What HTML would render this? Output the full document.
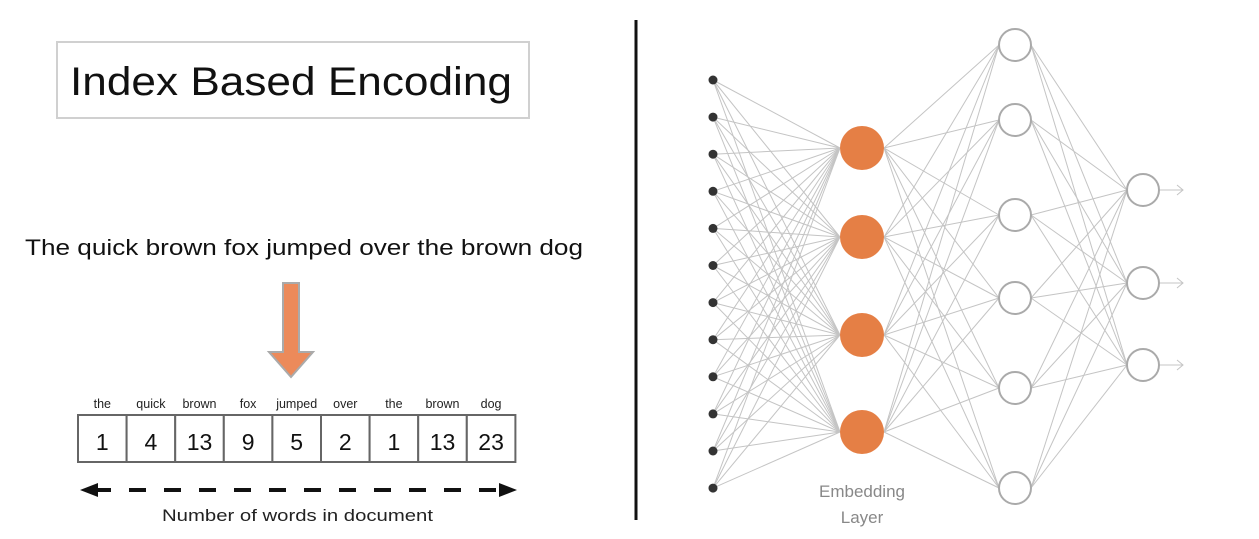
<!DOCTYPE html>
<html><head><meta charset="utf-8"><style>
html,body{margin:0;padding:0;background:#fff;width:1259px;height:539px;overflow:hidden}
svg{display:block}
text{font-family:"Liberation Sans",sans-serif}
</style></head><body>
<svg id="s" width="1259" height="539" xmlns="http://www.w3.org/2000/svg">
<rect x="57" y="42" width="472" height="76" fill="none" stroke="#d0d0d0" stroke-width="2"/>
<text x="70" y="95" font-size="40" textLength="442" lengthAdjust="spacingAndGlyphs" fill="#111">Index Based Encoding</text>
<text x="25" y="255" font-size="22" textLength="558" lengthAdjust="spacingAndGlyphs" fill="#111">The quick brown fox jumped over the brown dog</text>
<polygon points="283,283 299,283 299,352 313,352 291,377 269,352 283,352" fill="#ec8a5a" stroke="#aaa" stroke-width="2"/>
<g id="cells"></g>
<line x1="94" y1="490" x2="502" y2="490" stroke="#111" stroke-width="4" stroke-dasharray="17,18"/>
<polygon points="80,490 98,483 98,497" fill="#111"/>
<polygon points="517,490 499,483 499,497" fill="#111"/>
<text x="162" y="521" font-size="17" textLength="271" lengthAdjust="spacingAndGlyphs" fill="#222">Number of words in document</text>
<line x1="636" y1="20" x2="636" y2="520" stroke="#111" stroke-width="3"/>
<g id="edges" stroke="#c4c4c4" stroke-width="1"></g>
<g id="nodes"></g>
<text x="862" y="497" font-size="17" text-anchor="middle" fill="#888">Embedding</text>
<text x="862" y="523" font-size="17" text-anchor="middle" fill="#888">Layer</text>
</svg>
<script>
var NS="http://www.w3.org/2000/svg";
function el(p,t,a,txt){var e=document.createElementNS(NS,t);for(var k in a)e.setAttribute(k,a[k]);if(txt!=null)e.textContent=txt;document.getElementById(p).appendChild(e);}
var words=["the","quick","brown","fox","jumped","over","the","brown","dog"];
var nums=["1","4","13","9","5","2","1","13","23"];
var x0=78,w=48.6;
for(var i=0;i<9;i++){var x=x0+i*w;
el("cells","rect",{x:x,y:415,width:w,height:47,fill:"#fff",stroke:"#666","stroke-width":2});
el("cells","text",{x:x+w/2,y:450,"font-size":23,"text-anchor":"middle",fill:"#111"},nums[i]);
el("cells","text",{x:x+w/2,y:408,"font-size":12.5,"text-anchor":"middle",fill:"#222"},words[i]);}
var inp=[],emb=[],hid=[],out=[];
for(var i=0;i<12;i++)inp.push([713,80+i*37.1]);
[148,237,335,432].forEach(function(y){emb.push([862,y]);});
[45,120,215,298,388,488].forEach(function(y){hid.push([1015,y]);});
[190,283,365].forEach(function(y){out.push([1143,y]);});
function conn(a,b,ra,rb){a.forEach(function(p){b.forEach(function(q){el("edges","line",{x1:p[0]+ra,y1:p[1],x2:q[0]-rb,y2:q[1]});});});}
conn(inp,emb,0,22);conn(emb,hid,22,16);conn(hid,out,16,16);
out.forEach(function(p){el("edges","line",{x1:p[0]+16,y1:p[1],x2:p[0]+40,y2:p[1]});
el("edges","polyline",{points:(p[0]+34)+","+(p[1]-5)+" "+(p[0]+40)+","+p[1]+" "+(p[0]+34)+","+(p[1]+5),fill:"none"});});
inp.forEach(function(p){el("nodes","circle",{cx:p[0],cy:p[1],r:4.5,fill:"#333"});});
emb.forEach(function(p){el("nodes","circle",{cx:p[0],cy:p[1],r:22,fill:"#e57f45"});});
hid.concat(out).forEach(function(p){el("nodes","circle",{cx:p[0],cy:p[1],r:16,fill:"#fff",stroke:"#aaa","stroke-width":2});});
</script>
</body></html>
